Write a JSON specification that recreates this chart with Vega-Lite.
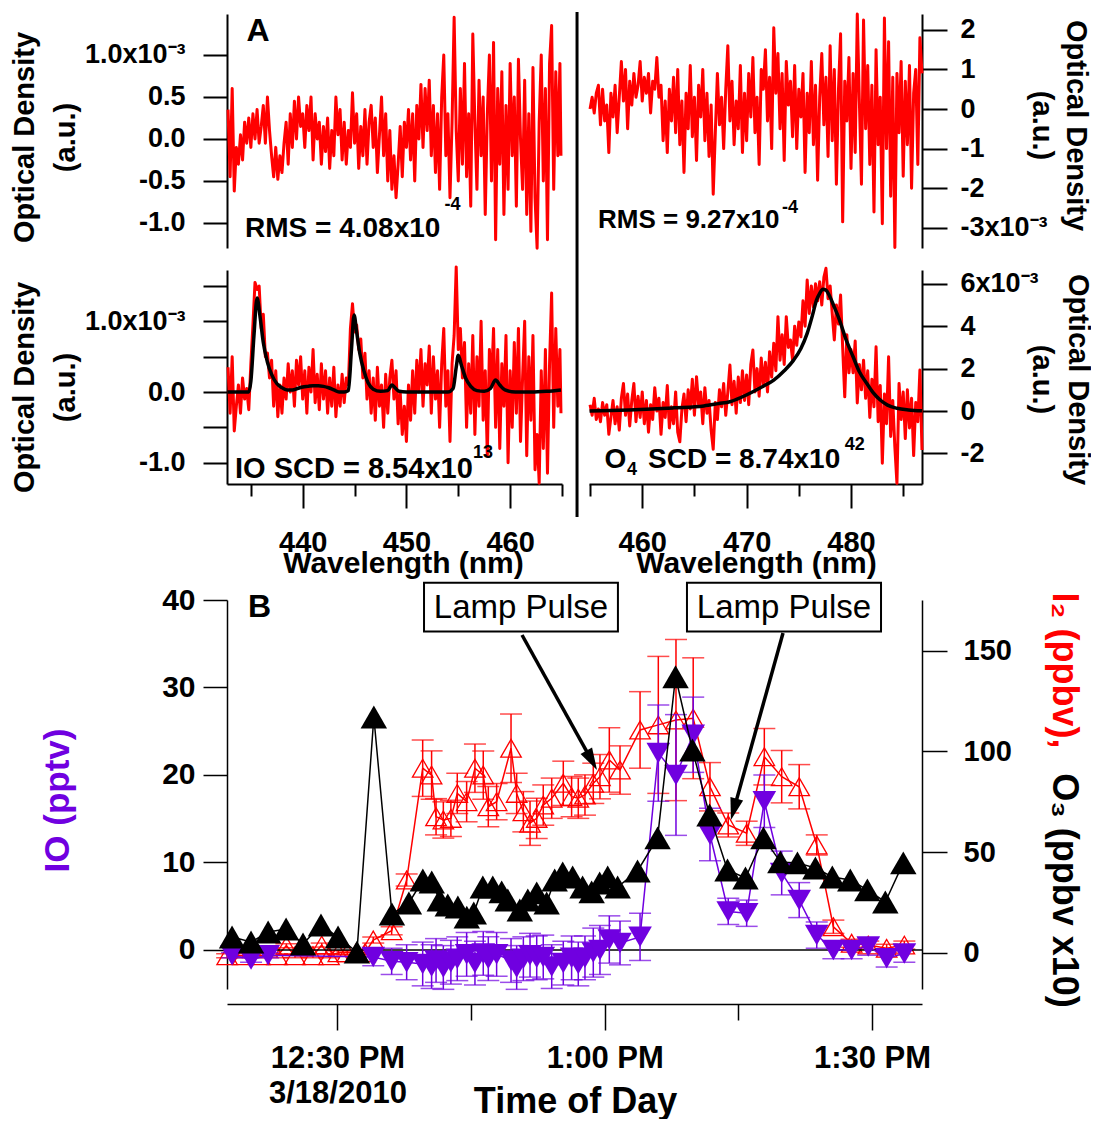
{
"$schema":"https://vega.github.io/schema/vega-lite/v6.json",
"background":"white",
"padding":{"left":10,"top":10,"right":0,"bottom":0},
"bounds":"flush",
"spacing":116,
"config":{
 "view":{"stroke":null},
 "font":"Liberation Sans",
 "axis":{"domainColor":"black","tickColor":"black","labelColor":"black","titleColor":"black","labelFont":"Liberation Sans","titleFont":"Liberation Sans","labelFontWeight":"bold","titleFontWeight":"bold","grid":false,"domainWidth":2,"tickWidth":2,"labelOverlap":false,"labelFlush":false,"labelBound":false},
 "text":{"font":"Liberation Sans"}
},
"datasets":{
"tl":[{"w":432.8,"od":0.35},{"w":433.0,"od":-0.45},{"w":433.2,"od":0.6},{"w":433.4,"od":-0.62},{"w":433.6,"od":-0.1},{"w":433.8,"od":-0.3},{"w":434.0,"od":0.05},{"w":434.2,"od":-0.25},{"w":434.4,"od":0.2},{"w":434.6,"od":-0.05},{"w":434.8,"od":0.25},{"w":435.0,"od":-0.1},{"w":435.2,"od":0.3},{"w":435.4,"od":0.0},{"w":435.6,"od":0.35},{"w":435.8,"od":-0.05},{"w":436.0,"od":0.15},{"w":436.2,"od":0.4},{"w":436.4,"od":-0.05},{"w":436.6,"od":0.5},{"w":436.8,"od":0.1},{"w":437.0,"od":-0.2},{"w":437.2,"od":-0.45},{"w":437.4,"od":-0.1},{"w":437.6,"od":-0.48},{"w":437.8,"od":-0.2},{"w":438.0,"od":-0.4},{"w":438.2,"od":-0.05},{"w":438.4,"od":0.2},{"w":438.6,"od":-0.3},{"w":438.8,"od":0.3},{"w":439.0,"od":-0.1},{"w":439.2,"od":0.45},{"w":439.4,"od":0.0},{"w":439.6,"od":0.5},{"w":439.8,"od":0.15},{"w":440.0,"od":0.3},{"w":440.2,"od":-0.1},{"w":440.4,"od":0.4},{"w":440.6,"od":0.1},{"w":440.8,"od":0.5},{"w":441.0,"od":-0.25},{"w":441.2,"od":0.3},{"w":441.4,"od":0.0},{"w":441.6,"od":0.2},{"w":441.8,"od":-0.3},{"w":442.0,"od":0.15},{"w":442.2,"od":-0.15},{"w":442.4,"od":0.25},{"w":442.6,"od":-0.35},{"w":442.8,"od":0.1},{"w":443.0,"od":-0.2},{"w":443.2,"od":0.5},{"w":443.4,"od":0.05},{"w":443.6,"od":0.35},{"w":443.8,"od":-0.25},{"w":444.0,"od":0.2},{"w":444.2,"od":-0.3},{"w":444.4,"od":0.1},{"w":444.6,"od":-0.1},{"w":444.8,"od":0.55},{"w":445.0,"od":-0.05},{"w":445.2,"od":0.3},{"w":445.4,"od":-0.35},{"w":445.6,"od":0.15},{"w":445.8,"od":-0.2},{"w":446.0,"od":0.35},{"w":446.2,"od":-0.3},{"w":446.4,"od":0.2},{"w":446.6,"od":0.4},{"w":446.8,"od":-0.1},{"w":447.0,"od":0.25},{"w":447.2,"od":-0.4},{"w":447.4,"od":0.05},{"w":447.6,"od":0.5},{"w":447.8,"od":-0.2},{"w":448.0,"od":0.3},{"w":448.2,"od":-0.5},{"w":448.4,"od":0.1},{"w":448.6,"od":-0.6},{"w":448.8,"od":-0.2},{"w":449.0,"od":-0.7},{"w":449.2,"od":-0.3},{"w":449.4,"od":0.15},{"w":449.6,"od":-0.45},{"w":449.8,"od":0.2},{"w":450.0,"od":-0.1},{"w":450.2,"od":0.35},{"w":450.4,"od":-0.25},{"w":450.6,"od":0.3},{"w":450.8,"od":-0.5},{"w":451.0,"od":0.4},{"w":451.2,"od":0.0},{"w":451.4,"od":0.65},{"w":451.6,"od":-0.1},{"w":451.8,"od":0.6},{"w":452.0,"od":0.1},{"w":452.2,"od":0.7},{"w":452.4,"od":-0.2},{"w":452.6,"od":0.4},{"w":452.8,"od":-0.4},{"w":453.0,"od":0.3},{"w":453.2,"od":-0.6},{"w":453.4,"od":0.5},{"w":453.6,"od":1.0},{"w":453.8,"od":-0.2},{"w":454.0,"od":0.3},{"w":454.2,"od":-0.7},{"w":454.4,"od":0.2},{"w":454.6,"od":1.45},{"w":454.8,"od":0.1},{"w":455.0,"od":-0.5},{"w":455.2,"od":0.6},{"w":455.4,"od":-0.3},{"w":455.6,"od":0.9},{"w":455.8,"od":-0.45},{"w":456.0,"od":0.3},{"w":456.2,"od":-0.8},{"w":456.4,"od":1.25},{"w":456.6,"od":0.2},{"w":456.8,"od":-0.6},{"w":457.0,"od":0.7},{"w":457.2,"od":-0.2},{"w":457.4,"od":0.5},{"w":457.6,"od":-0.9},{"w":457.8,"od":0.3},{"w":458.0,"od":1.0},{"w":458.2,"od":-0.5},{"w":458.4,"od":1.15},{"w":458.6,"od":-1.2},{"w":458.8,"od":0.6},{"w":459.0,"od":-0.3},{"w":459.2,"od":0.8},{"w":459.4,"od":-0.9},{"w":459.6,"od":0.4},{"w":459.8,"od":-0.6},{"w":460.0,"od":0.9},{"w":460.2,"od":-0.2},{"w":460.4,"od":0.5},{"w":460.6,"od":-0.8},{"w":460.8,"od":0.95},{"w":461.0,"od":0.0},{"w":461.2,"od":-0.6},{"w":461.4,"od":0.7},{"w":461.6,"od":-0.9},{"w":461.8,"od":0.3},{"w":462.0,"od":-1.1},{"w":462.2,"od":0.85},{"w":462.4,"od":-0.7},{"w":462.6,"od":-1.3},{"w":462.8,"od":0.2},{"w":463.0,"od":1.0},{"w":463.2,"od":-0.5},{"w":463.4,"od":0.6},{"w":463.6,"od":-1.2},{"w":463.8,"od":0.9},{"w":464.0,"od":1.35},{"w":464.2,"od":-0.6},{"w":464.4,"od":0.8},{"w":464.6,"od":-0.2},{"w":464.8,"od":0.9},{"w":464.9,"od":-0.2}],
"tr":[{"w":455.0,"od":0.0},{"w":455.2,"od":0.3},{"w":455.4,"od":-0.1},{"w":455.6,"od":0.4},{"w":455.8,"od":0.6},{"w":456.0,"od":-0.4},{"w":456.2,"od":0.5},{"w":456.4,"od":-0.3},{"w":456.6,"od":0.1},{"w":456.8,"od":-1.1},{"w":457.0,"od":0.4},{"w":457.2,"od":-0.2},{"w":457.4,"od":0.6},{"w":457.6,"od":-0.6},{"w":457.8,"od":0.3},{"w":458.0,"od":1.2},{"w":458.2,"od":0.2},{"w":458.4,"od":1.0},{"w":458.6,"od":-0.5},{"w":458.8,"od":0.7},{"w":459.0,"od":0.1},{"w":459.2,"od":0.9},{"w":459.4,"od":0.3},{"w":459.6,"od":0.6},{"w":459.8,"od":1.2},{"w":460.0,"od":0.2},{"w":460.2,"od":0.8},{"w":460.4,"od":0.4},{"w":460.6,"od":0.9},{"w":460.8,"od":-0.1},{"w":461.0,"od":0.7},{"w":461.2,"od":0.5},{"w":461.4,"od":1.3},{"w":461.6,"od":0.3},{"w":461.8,"od":0.6},{"w":462.0,"od":-0.8},{"w":462.2,"od":0.2},{"w":462.4,"od":-1.1},{"w":462.6,"od":0.5},{"w":462.8,"od":-0.3},{"w":463.0,"od":0.8},{"w":463.2,"od":-0.6},{"w":463.4,"od":1.0},{"w":463.6,"od":-0.9},{"w":463.8,"od":0.2},{"w":464.0,"od":-1.6},{"w":464.2,"od":0.4},{"w":464.4,"od":-0.5},{"w":464.6,"od":1.1},{"w":464.8,"od":-0.7},{"w":465.0,"od":0.3},{"w":465.2,"od":-1.3},{"w":465.4,"od":0.6},{"w":465.6,"od":-0.2},{"w":465.8,"od":1.0},{"w":466.0,"od":-0.8},{"w":466.2,"od":0.4},{"w":466.4,"od":-1.2},{"w":466.6,"od":0.1},{"w":466.8,"od":-2.15},{"w":467.0,"od":-0.6},{"w":467.2,"od":0.9},{"w":467.4,"od":-0.4},{"w":467.6,"od":0.3},{"w":467.8,"od":-1.0},{"w":468.0,"od":0.5},{"w":468.2,"od":1.6},{"w":468.4,"od":-0.3},{"w":468.6,"od":0.7},{"w":468.8,"od":-0.9},{"w":469.0,"od":0.2},{"w":469.2,"od":-0.5},{"w":469.4,"od":1.1},{"w":469.6,"od":-1.1},{"w":469.8,"od":0.4},{"w":470.0,"od":-0.8},{"w":470.2,"od":0.9},{"w":470.4,"od":-0.2},{"w":470.6,"od":1.3},{"w":470.8,"od":-0.6},{"w":471.0,"od":0.3},{"w":471.2,"od":-1.4},{"w":471.4,"od":1.0},{"w":471.6,"od":0.5},{"w":471.8,"od":1.5},{"w":472.0,"od":-0.3},{"w":472.2,"od":0.8},{"w":472.4,"od":-1.0},{"w":472.6,"od":2.05},{"w":472.8,"od":0.4},{"w":473.0,"od":1.4},{"w":473.2,"od":-0.5},{"w":473.4,"od":0.9},{"w":473.6,"od":-1.3},{"w":473.8,"od":1.2},{"w":474.0,"od":0.1},{"w":474.2,"od":0.7},{"w":474.4,"od":-0.7},{"w":474.6,"od":1.1},{"w":474.8,"od":-1.0},{"w":475.0,"od":0.5},{"w":475.2,"od":-0.2},{"w":475.4,"od":0.9},{"w":475.6,"od":-1.6},{"w":475.8,"od":0.4},{"w":476.0,"od":-0.6},{"w":476.2,"od":1.2},{"w":476.4,"od":-0.9},{"w":476.6,"od":0.6},{"w":476.8,"od":-1.8},{"w":477.0,"od":0.3},{"w":477.2,"od":1.4},{"w":477.4,"od":-0.4},{"w":477.6,"od":0.8},{"w":477.8,"od":-1.2},{"w":478.0,"od":1.6},{"w":478.2,"od":-0.8},{"w":478.4,"od":1.0},{"w":478.6,"od":-1.9},{"w":478.8,"od":0.5},{"w":479.0,"od":1.9},{"w":479.2,"od":-2.85},{"w":479.4,"od":0.7},{"w":479.6,"od":-0.3},{"w":479.8,"od":1.3},{"w":480.0,"od":-1.5},{"w":480.2,"od":0.9},{"w":480.4,"od":-1.1},{"w":480.6,"od":2.4},{"w":480.8,"od":0.2},{"w":481.0,"od":-1.9},{"w":481.2,"od":2.25},{"w":481.4,"od":-0.5},{"w":481.6,"od":1.1},{"w":481.8,"od":-1.4},{"w":482.0,"od":0.6},{"w":482.2,"od":-2.6},{"w":482.4,"od":1.5},{"w":482.6,"od":-0.9},{"w":482.8,"od":0.3},{"w":483.0,"od":-2.9},{"w":483.2,"od":2.3},{"w":483.4,"od":-1.0},{"w":483.6,"od":1.7},{"w":483.8,"od":-2.2},{"w":484.0,"od":0.8},{"w":484.2,"od":-3.5},{"w":484.4,"od":0.9},{"w":484.6,"od":-0.6},{"w":484.8,"od":1.2},{"w":485.0,"od":-1.7},{"w":485.2,"od":0.7},{"w":485.4,"od":-0.9},{"w":485.6,"od":1.1},{"w":485.8,"od":-2.0},{"w":486.0,"od":0.4},{"w":486.2,"od":1.0},{"w":486.4,"od":-1.4},{"w":486.6,"od":1.8},{"w":486.8,"od":0.9}],
"bl":[{"w":432.8,"od":0.35},{"w":433.0,"od":-0.3},{"w":433.2,"od":0.5},{"w":433.4,"od":-0.55},{"w":433.6,"od":-0.2},{"w":433.8,"od":0.1},{"w":434.0,"od":-0.3},{"w":434.2,"od":0.2},{"w":434.4,"od":-0.1},{"w":434.6,"od":0.05},{"w":434.8,"od":-0.25},{"w":435.0,"od":0.4},{"w":435.2,"od":0.95},{"w":435.4,"od":1.55},{"w":435.6,"od":1.45},{"w":435.8,"od":1.5},{"w":436.0,"od":0.9},{"w":436.2,"od":1.1},{"w":436.4,"od":0.5},{"w":436.6,"od":0.55},{"w":436.8,"od":0.2},{"w":437.0,"od":0.45},{"w":437.2,"od":-0.2},{"w":437.4,"od":0.3},{"w":437.6,"od":-0.35},{"w":437.8,"od":0.1},{"w":438.0,"od":-0.3},{"w":438.2,"od":0.2},{"w":438.4,"od":-0.1},{"w":438.6,"od":0.4},{"w":438.8,"od":0.0},{"w":439.0,"od":0.3},{"w":439.2,"od":-0.2},{"w":439.4,"od":0.45},{"w":439.6,"od":0.1},{"w":439.8,"od":0.5},{"w":440.0,"od":-0.1},{"w":440.2,"od":0.3},{"w":440.4,"od":-0.3},{"w":440.6,"od":0.35},{"w":440.8,"od":0.0},{"w":441.0,"od":0.6},{"w":441.2,"od":-0.15},{"w":441.4,"od":0.25},{"w":441.6,"od":-0.25},{"w":441.8,"od":0.4},{"w":442.0,"od":-0.1},{"w":442.2,"od":0.3},{"w":442.4,"od":-0.3},{"w":442.6,"od":0.2},{"w":442.8,"od":-0.2},{"w":443.0,"od":0.35},{"w":443.2,"od":-0.35},{"w":443.4,"od":0.1},{"w":443.6,"od":-0.2},{"w":443.8,"od":0.25},{"w":444.0,"od":-0.15},{"w":444.2,"od":0.2},{"w":444.4,"od":0.1},{"w":444.6,"od":0.9},{"w":444.8,"od":1.25},{"w":445.0,"od":0.85},{"w":445.2,"od":0.95},{"w":445.4,"od":0.6},{"w":445.6,"od":0.75},{"w":445.8,"od":0.2},{"w":446.0,"od":0.55},{"w":446.2,"od":-0.1},{"w":446.4,"od":0.3},{"w":446.6,"od":-0.3},{"w":446.8,"od":0.2},{"w":447.0,"od":-0.4},{"w":447.2,"od":0.35},{"w":447.4,"od":-0.2},{"w":447.6,"od":0.1},{"w":447.8,"od":-0.5},{"w":448.0,"od":0.25},{"w":448.2,"od":-0.3},{"w":448.4,"od":0.2},{"w":448.6,"od":0.45},{"w":448.8,"od":-0.1},{"w":449.0,"od":0.3},{"w":449.2,"od":-0.45},{"w":449.4,"od":0.0},{"w":449.6,"od":-0.6},{"w":449.8,"od":-0.2},{"w":450.0,"od":-0.7},{"w":450.2,"od":0.1},{"w":450.4,"od":-0.4},{"w":450.6,"od":0.3},{"w":450.8,"od":-0.3},{"w":451.0,"od":0.45},{"w":451.2,"od":0.0},{"w":451.4,"od":0.6},{"w":451.6,"od":-0.2},{"w":451.8,"od":0.4},{"w":452.0,"od":0.1},{"w":452.2,"od":0.65},{"w":452.4,"od":-0.3},{"w":452.6,"od":0.5},{"w":452.8,"od":-0.1},{"w":453.0,"od":0.3},{"w":453.2,"od":-0.5},{"w":453.4,"od":0.4},{"w":453.6,"od":0.9},{"w":453.8,"od":-0.2},{"w":454.0,"od":0.3},{"w":454.2,"od":-0.7},{"w":454.4,"od":0.4},{"w":454.6,"od":0.8},{"w":454.8,"od":1.77},{"w":455.0,"od":0.6},{"w":455.2,"od":0.9},{"w":455.4,"od":0.2},{"w":455.6,"od":0.7},{"w":455.8,"od":-0.5},{"w":456.0,"od":0.4},{"w":456.2,"od":-0.3},{"w":456.4,"od":0.8},{"w":456.6,"od":-0.6},{"w":456.8,"od":0.5},{"w":457.0,"od":-0.2},{"w":457.2,"od":1.0},{"w":457.4,"od":-0.4},{"w":457.6,"od":0.3},{"w":457.8,"od":-0.9},{"w":458.0,"od":0.6},{"w":458.2,"od":0.1},{"w":458.4,"od":0.9},{"w":458.6,"od":-0.5},{"w":458.8,"od":0.6},{"w":459.0,"od":-0.8},{"w":459.2,"od":0.4},{"w":459.4,"od":-0.2},{"w":459.6,"od":0.8},{"w":459.8,"od":-1.0},{"w":460.0,"od":0.3},{"w":460.2,"od":-0.5},{"w":460.4,"od":0.7},{"w":460.6,"od":-0.3},{"w":460.8,"od":0.9},{"w":461.0,"od":-0.7},{"w":461.2,"od":0.2},{"w":461.4,"od":1.0},{"w":461.6,"od":-0.9},{"w":461.8,"od":0.5},{"w":462.0,"od":-0.4},{"w":462.2,"od":0.8},{"w":462.4,"od":-1.1},{"w":462.6,"od":-0.6},{"w":462.8,"od":-1.29},{"w":463.0,"od":0.3},{"w":463.2,"od":-0.8},{"w":463.4,"od":0.6},{"w":463.6,"od":-1.15},{"w":463.8,"od":0.4},{"w":464.0,"od":1.4},{"w":464.2,"od":-0.5},{"w":464.4,"od":0.9},{"w":464.6,"od":-0.2},{"w":464.8,"od":0.6},{"w":464.9,"od":-0.3}],
"blfit":[{"w":432.75,"od":0.0},{"w":434.8,"od":0.0},{"w":435.0,"od":0.15},{"w":435.3,"od":0.8},{"w":435.6,"od":1.33},{"w":435.9,"od":1.05},{"w":436.2,"od":0.7},{"w":436.6,"od":0.42},{"w":437.0,"od":0.25},{"w":437.5,"od":0.12},{"w":438.0,"od":0.06},{"w":438.5,"od":0.03},{"w":439.0,"od":0.03},{"w":439.5,"od":0.05},{"w":440.0,"od":0.07},{"w":440.5,"od":0.08},{"w":441.0,"od":0.09},{"w":441.5,"od":0.09},{"w":442.0,"od":0.08},{"w":442.5,"od":0.06},{"w":443.0,"od":0.03},{"w":443.5,"od":0.0},{"w":444.0,"od":0.0},{"w":444.4,"od":0.02},{"w":444.7,"od":0.6},{"w":444.95,"od":1.09},{"w":445.2,"od":0.85},{"w":445.5,"od":0.55},{"w":445.9,"od":0.3},{"w":446.3,"od":0.13},{"w":446.8,"od":0.04},{"w":447.5,"od":0.01},{"w":448.2,"od":0.02},{"w":448.6,"od":0.1},{"w":448.9,"od":0.06},{"w":449.3,"od":0.01},{"w":450.0,"od":0.0},{"w":451.0,"od":0.0},{"w":452.0,"od":0.0},{"w":453.0,"od":0.0},{"w":454.0,"od":0.0},{"w":454.5,"od":0.05},{"w":454.8,"od":0.35},{"w":455.0,"od":0.52},{"w":455.3,"od":0.38},{"w":455.7,"od":0.2},{"w":456.2,"od":0.08},{"w":456.8,"od":0.02},{"w":457.5,"od":0.01},{"w":458.1,"od":0.05},{"w":458.6,"od":0.17},{"w":459.0,"od":0.1},{"w":459.5,"od":0.03},{"w":460.5,"od":0.0},{"w":462.0,"od":0.0},{"w":463.5,"od":0.01},{"w":464.9,"od":0.03}],
"br":[{"w":455.0,"od":0.3},{"w":455.2,"od":-0.2},{"w":455.4,"od":0.6},{"w":455.6,"od":-0.4},{"w":455.8,"od":0.1},{"w":456.0,"od":-0.5},{"w":456.2,"od":0.4},{"w":456.4,"od":-0.2},{"w":456.6,"od":0.3},{"w":456.8,"od":-1.1},{"w":457.0,"od":-0.3},{"w":457.2,"od":0.5},{"w":457.4,"od":-0.6},{"w":457.6,"od":0.2},{"w":457.8,"od":-0.9},{"w":458.0,"od":0.6},{"w":458.2,"od":1.3},{"w":458.4,"od":-0.2},{"w":458.6,"od":0.8},{"w":458.8,"od":-0.7},{"w":459.0,"od":0.5},{"w":459.2,"od":1.3},{"w":459.4,"od":-0.5},{"w":459.6,"od":0.7},{"w":459.8,"od":-0.3},{"w":460.0,"od":0.9},{"w":460.2,"od":-0.6},{"w":460.4,"od":0.5},{"w":460.6,"od":-1.0},{"w":460.8,"od":0.3},{"w":461.0,"od":-0.4},{"w":461.2,"od":1.1},{"w":461.4,"od":0.0},{"w":461.6,"od":0.6},{"w":461.8,"od":-1.1},{"w":462.0,"od":0.4},{"w":462.2,"od":-0.3},{"w":462.4,"od":1.2},{"w":462.6,"od":-0.8},{"w":462.8,"od":0.2},{"w":463.0,"od":-0.6},{"w":463.2,"od":0.9},{"w":463.4,"od":-1.0},{"w":463.6,"od":-1.45},{"w":463.8,"od":0.1},{"w":464.0,"od":0.8},{"w":464.2,"od":-0.5},{"w":464.4,"od":1.0},{"w":464.6,"od":0.1},{"w":464.8,"od":1.5},{"w":465.0,"od":-0.2},{"w":465.2,"od":1.62},{"w":465.4,"od":0.3},{"w":465.6,"od":0.9},{"w":465.8,"od":-0.6},{"w":466.0,"od":1.1},{"w":466.2,"od":-0.1},{"w":466.4,"od":0.5},{"w":466.6,"od":-0.9},{"w":466.8,"od":-1.8},{"w":467.0,"od":0.4},{"w":467.2,"od":-0.4},{"w":467.4,"od":1.0},{"w":467.6,"od":0.2},{"w":467.8,"od":1.3},{"w":468.0,"od":-0.2},{"w":468.2,"od":0.9},{"w":468.4,"od":2.17},{"w":468.6,"od":0.3},{"w":468.8,"od":1.4},{"w":469.0,"od":-0.1},{"w":469.2,"od":1.6},{"w":469.4,"od":0.4},{"w":469.6,"od":1.9},{"w":469.8,"od":0.5},{"w":470.0,"od":1.7},{"w":470.2,"od":0.3},{"w":470.4,"od":2.2},{"w":470.6,"od":2.88},{"w":470.8,"od":0.9},{"w":471.0,"od":2.0},{"w":471.2,"od":0.7},{"w":471.4,"od":2.5},{"w":471.6,"od":1.2},{"w":471.8,"od":2.3},{"w":472.0,"od":0.9},{"w":472.2,"od":2.8},{"w":472.4,"od":1.6},{"w":472.6,"od":3.2},{"w":472.8,"od":1.9},{"w":473.0,"od":4.45},{"w":473.2,"od":2.4},{"w":473.4,"od":3.6},{"w":473.6,"od":2.2},{"w":473.8,"od":4.45},{"w":474.0,"od":3.0},{"w":474.2,"od":3.35},{"w":474.4,"od":2.4},{"w":474.6,"od":4.0},{"w":474.8,"od":3.1},{"w":475.0,"od":4.2},{"w":475.2,"od":3.5},{"w":475.4,"od":5.2},{"w":475.6,"od":4.0},{"w":475.8,"od":6.18},{"w":476.0,"od":4.6},{"w":476.2,"od":5.9},{"w":476.4,"od":4.9},{"w":476.6,"od":6.0},{"w":476.8,"od":5.2},{"w":477.0,"od":6.1},{"w":477.2,"od":5.0},{"w":477.4,"od":6.3},{"w":477.6,"od":6.73},{"w":477.8,"od":5.3},{"w":478.0,"od":5.9},{"w":478.2,"od":4.6},{"w":478.4,"od":3.35},{"w":478.6,"od":5.0},{"w":478.8,"od":4.1},{"w":479.0,"od":5.47},{"w":479.2,"od":3.0},{"w":479.4,"od":0.67},{"w":479.6,"od":3.6},{"w":479.8,"od":1.8},{"w":480.0,"od":2.9},{"w":480.2,"od":1.8},{"w":480.4,"od":3.3},{"w":480.6,"od":0.38},{"w":480.8,"od":2.2},{"w":481.0,"od":1.0},{"w":481.2,"od":2.4},{"w":481.4,"od":0.6},{"w":481.6,"od":1.9},{"w":481.8,"od":-0.3},{"w":482.0,"od":1.5},{"w":482.2,"od":0.2},{"w":482.4,"od":3.03},{"w":482.6,"od":-0.5},{"w":482.8,"od":1.2},{"w":483.0,"od":-2.46},{"w":483.2,"od":0.8},{"w":483.4,"od":-0.6},{"w":483.6,"od":2.56},{"w":483.8,"od":-1.2},{"w":484.0,"od":0.5},{"w":484.2,"od":-1.7},{"w":484.4,"od":-3.41},{"w":484.6,"od":1.3},{"w":484.8,"od":-0.4},{"w":485.0,"od":0.9},{"w":485.2,"od":-1.3},{"w":485.4,"od":1.0},{"w":485.6,"od":-0.8},{"w":485.8,"od":0.6},{"w":486.0,"od":-2.1},{"w":486.2,"od":0.4},{"w":486.4,"od":-0.5},{"w":486.6,"od":1.93},{"w":486.8,"od":-1.84}],
"brfit":[{"w":454.95,"od":0.0},{"w":457.0,"od":0.02},{"w":460.4,"od":0.08},{"w":463.0,"od":0.15},{"w":465.9,"od":0.24},{"w":467.3,"od":0.35},{"w":468.4,"od":0.44},{"w":469.5,"od":0.65},{"w":470.6,"od":0.91},{"w":471.6,"od":1.17},{"w":472.6,"od":1.46},{"w":473.6,"od":1.9},{"w":474.5,"od":2.4},{"w":475.2,"od":2.95},{"w":475.8,"od":3.66},{"w":476.3,"od":4.5},{"w":476.7,"od":5.24},{"w":477.0,"od":5.55},{"w":477.3,"od":5.74},{"w":477.6,"od":5.7},{"w":477.9,"od":5.47},{"w":478.4,"od":4.9},{"w":478.9,"od":4.29},{"w":479.5,"od":3.4},{"w":480.2,"od":2.56},{"w":480.8,"od":1.85},{"w":481.5,"od":1.31},{"w":482.1,"od":0.88},{"w":482.8,"od":0.52},{"w":483.5,"od":0.28},{"w":484.4,"od":0.13},{"w":485.5,"od":0.05},{"w":486.8,"od":0.01}],
"i2":[{"time":"2010-03-18T12:17:37","i2":-1.5,"e":1},{"time":"2010-03-18T12:19:23","i2":-1.5,"e":1},{"time":"2010-03-18T12:21:18","i2":-1.5,"e":1},{"time":"2010-03-18T12:23:13","i2":-1.5,"e":1},{"time":"2010-03-18T12:24:16","i2":3.5,"e":1},{"time":"2010-03-18T12:25:14","i2":-1.5,"e":1},{"time":"2010-03-18T12:27:15","i2":-1.5,"e":1},{"time":"2010-03-18T12:28:14","i2":3.8,"e":1},{"time":"2010-03-18T12:29:03","i2":-1.5,"e":1},{"time":"2010-03-18T12:30:06","i2":0.0,"e":1},{"time":"2010-03-18T12:31:06","i2":0.0,"e":1},{"time":"2010-03-18T12:32:06","i2":0.0,"e":1},{"time":"2010-03-18T12:33:06","i2":0.0,"e":1},{"time":"2010-03-18T12:34:01","i2":6.3,"e":1.5},{"time":"2010-03-18T12:36:05","i2":10.9,"e":2},{"time":"2010-03-18T12:37:46","i2":36.1,"e":3},{"time":"2010-03-18T12:39:34","i2":91.6,"e":14},{"time":"2010-03-18T12:40:34","i2":88.2,"e":12},{"time":"2010-03-18T12:41:04","i2":67.5,"e":9},{"time":"2010-03-18T12:41:53","i2":65.9,"e":9},{"time":"2010-03-18T12:42:44","i2":66.7,"e":9},{"time":"2010-03-18T12:43:27","i2":79.1,"e":10},{"time":"2010-03-18T12:44:30","i2":75.0,"e":10},{"time":"2010-03-18T12:45:26","i2":91.6,"e":12},{"time":"2010-03-18T12:46:22","i2":88.2,"e":12},{"time":"2010-03-18T12:46:56","i2":72.5,"e":10},{"time":"2010-03-18T12:47:52","i2":75.0,"e":9},{"time":"2010-03-18T12:49:29","i2":101.5,"e":17},{"time":"2010-03-18T12:50:07","i2":79.1,"e":10},{"time":"2010-03-18T12:50:52","i2":70.0,"e":10},{"time":"2010-03-18T12:51:37","i2":64.3,"e":11},{"time":"2010-03-18T12:52:22","i2":66.7,"e":10},{"time":"2010-03-18T12:53:06","i2":73.3,"e":10},{"time":"2010-03-18T12:54:03","i2":76.7,"e":10},{"time":"2010-03-18T12:55:21","i2":84.1,"e":11},{"time":"2010-03-18T12:56:17","i2":77.5,"e":10},{"time":"2010-03-18T12:57:02","i2":76.7,"e":10},{"time":"2010-03-18T12:57:47","i2":78.3,"e":10},{"time":"2010-03-18T12:58:43","i2":84.1,"e":10},{"time":"2010-03-18T12:59:28","i2":87.4,"e":11},{"time":"2010-03-18T13:00:31","i2":95.7,"e":16},{"time":"2010-03-18T13:01:43","i2":90.7,"e":12},{"time":"2010-03-18T13:03:58","i2":110.6,"e":19},{"time":"2010-03-18T13:06:01","i2":113.1,"e":34},{"time":"2010-03-18T13:08:00","i2":115.5,"e":40},{"time":"2010-03-18T13:09:56","i2":116.4,"e":30},{"time":"2010-03-18T13:11:49","i2":82.4,"e":12},{"time":"2010-03-18T13:13:52","i2":63.4,"e":6},{"time":"2010-03-18T13:15:56","i2":59.3,"e":6},{"time":"2010-03-18T13:17:55","i2":97.3,"e":14},{"time":"2010-03-18T13:19:52","i2":87.4,"e":13},{"time":"2010-03-18T13:21:50","i2":82.4,"e":11},{"time":"2010-03-18T13:23:48","i2":53.5,"e":5},{"time":"2010-03-18T13:25:40","i2":12.9,"e":3.3},{"time":"2010-03-18T13:27:43","i2":4.7,"e":2},{"time":"2010-03-18T13:29:35","i2":3.8,"e":2},{"time":"2010-03-18T13:31:39","i2":2.2,"e":2},{"time":"2010-03-18T13:33:38","i2":3.8,"e":2}],
"io":[{"time":"2010-03-18T12:18:10","io":-0.6,"e":0.3},{"time":"2010-03-18T12:20:18","io":-1.1,"e":0.3},{"time":"2010-03-18T12:22:13","io":-0.6,"e":0.3},{"time":"2010-03-18T12:34:01","io":-0.8,"e":1.0},{"time":"2010-03-18T12:36:05","io":-1.3,"e":1.5},{"time":"2010-03-18T12:37:46","io":-1.4,"e":2},{"time":"2010-03-18T12:39:34","io":-1.6,"e":2.5},{"time":"2010-03-18T12:40:34","io":-1.9,"e":2.5},{"time":"2010-03-18T12:41:04","io":-1.2,"e":2.5},{"time":"2010-03-18T12:41:53","io":-2.0,"e":2.5},{"time":"2010-03-18T12:42:44","io":-1.4,"e":2.5},{"time":"2010-03-18T12:43:27","io":-1.0,"e":2.5},{"time":"2010-03-18T12:44:30","io":-0.5,"e":2.5},{"time":"2010-03-18T12:45:26","io":-1.5,"e":2.5},{"time":"2010-03-18T12:46:22","io":-0.4,"e":2.5},{"time":"2010-03-18T12:46:56","io":-1.0,"e":2.5},{"time":"2010-03-18T12:47:52","io":-0.5,"e":2.5},{"time":"2010-03-18T12:49:29","io":-1.2,"e":2.5},{"time":"2010-03-18T12:50:07","io":-2.0,"e":2.5},{"time":"2010-03-18T12:50:52","io":-1.0,"e":2.5},{"time":"2010-03-18T12:51:37","io":-0.6,"e":2.5},{"time":"2010-03-18T12:52:22","io":-0.9,"e":2.5},{"time":"2010-03-18T12:53:06","io":-0.8,"e":2.5},{"time":"2010-03-18T12:54:03","io":-1.9,"e":2.5},{"time":"2010-03-18T12:55:21","io":-1.5,"e":2.5},{"time":"2010-03-18T12:56:17","io":-0.9,"e":2.5},{"time":"2010-03-18T12:57:02","io":-1.6,"e":2.5},{"time":"2010-03-18T12:57:47","io":-0.9,"e":2.5},{"time":"2010-03-18T12:58:43","io":-0.3,"e":2.8},{"time":"2010-03-18T12:59:28","io":0.0,"e":2.8},{"time":"2010-03-18T13:00:31","io":1.2,"e":2.7},{"time":"2010-03-18T13:01:43","io":0.8,"e":2.5},{"time":"2010-03-18T13:03:58","io":1.5,"e":2.7},{"time":"2010-03-18T13:06:01","io":22.5,"e":5.5},{"time":"2010-03-18T13:08:00","io":20.0,"e":6.9},{"time":"2010-03-18T13:09:56","io":24.6,"e":4.3},{"time":"2010-03-18T13:11:49","io":13.2,"e":3},{"time":"2010-03-18T13:13:52","io":4.4,"e":1.5},{"time":"2010-03-18T13:15:56","io":4.2,"e":1.5},{"time":"2010-03-18T13:17:55","io":17.0,"e":3},{"time":"2010-03-18T13:19:52","io":8.8,"e":2.5},{"time":"2010-03-18T13:21:50","io":5.7,"e":2},{"time":"2010-03-18T13:23:48","io":1.7,"e":1.5},{"time":"2010-03-18T13:25:40","io":0.0,"e":1},{"time":"2010-03-18T13:27:43","io":0.0,"e":1},{"time":"2010-03-18T13:29:35","io":0.4,"e":1},{"time":"2010-03-18T13:31:39","io":-0.95,"e":1},{"time":"2010-03-18T13:33:38","io":-0.4,"e":1}],
"o3":[{"time":"2010-03-18T12:18:10","o3":7.8},{"time":"2010-03-18T12:20:18","o3":5.3},{"time":"2010-03-18T12:22:13","o3":10.3},{"time":"2010-03-18T12:24:14","o3":11.8},{"time":"2010-03-18T12:26:08","o3":4.3},{"time":"2010-03-18T12:28:09","o3":13.8},{"time":"2010-03-18T12:30:04","o3":7.8},{"time":"2010-03-18T12:32:11","o3":0.3},{"time":"2010-03-18T12:34:05","o3":117.0},{"time":"2010-03-18T12:36:07","o3":19.2},{"time":"2010-03-18T12:38:01","o3":24.7},{"time":"2010-03-18T12:39:35","o3":36.1},{"time":"2010-03-18T12:40:35","o3":35.1},{"time":"2010-03-18T12:41:29","o3":26.2},{"time":"2010-03-18T12:42:23","o3":23.7},{"time":"2010-03-18T12:43:31","o3":22.7},{"time":"2010-03-18T12:44:31","o3":17.7},{"time":"2010-03-18T12:45:18","o3":19.7},{"time":"2010-03-18T12:46:19","o3":32.6},{"time":"2010-03-18T12:47:26","o3":32.6},{"time":"2010-03-18T12:48:26","o3":30.2},{"time":"2010-03-18T12:49:07","o3":26.2},{"time":"2010-03-18T12:50:28","o3":21.2},{"time":"2010-03-18T12:51:22","o3":26.2},{"time":"2010-03-18T12:52:22","o3":29.7},{"time":"2010-03-18T12:53:29","o3":24.7},{"time":"2010-03-18T12:54:23","o3":36.1},{"time":"2010-03-18T12:55:17","o3":39.6},{"time":"2010-03-18T12:56:24","o3":37.6},{"time":"2010-03-18T12:57:31","o3":32.6},{"time":"2010-03-18T12:58:32","o3":30.2},{"time":"2010-03-18T12:59:26","o3":34.6},{"time":"2010-03-18T13:00:20","o3":37.6},{"time":"2010-03-18T13:01:27","o3":32.6},{"time":"2010-03-18T13:03:41","o3":40.6},{"time":"2010-03-18T13:05:56","o3":57.0},{"time":"2010-03-18T13:07:57","o3":137.0},{"time":"2010-03-18T13:09:51","o3":100.6},{"time":"2010-03-18T13:11:46","o3":68.4},{"time":"2010-03-18T13:13:47","o3":41.1},{"time":"2010-03-18T13:15:48","o3":37.1},{"time":"2010-03-18T13:17:49","o3":57.0},{"time":"2010-03-18T13:19:43","o3":45.1},{"time":"2010-03-18T13:21:38","o3":44.6},{"time":"2010-03-18T13:23:39","o3":42.1},{"time":"2010-03-18T13:25:33","o3":37.6},{"time":"2010-03-18T13:27:34","o3":36.1},{"time":"2010-03-18T13:29:29","o3":31.2},{"time":"2010-03-18T13:31:30","o3":25.2},{"time":"2010-03-18T13:33:31","o3":44.6}]
},
"vconcat":[
{"width":695,"height":470,
 "resolve":{"scale":{"x":"independent","y":"independent"}},
 "layer":[
  {"layer":[
    {"data":{"name":"tl"},"mark":{"type":"line","color":"#ff0000","strokeWidth":3,"strokeJoin":"round"},
     "encoding":{
      "x":{"field":"w","type":"quantitative","scale":{"domain":[432.7,465],"range":[0,335],"nice":false,"zero":false},"axis":null},
      "y":{"field":"od","type":"quantitative","scale":{"domain":[-1.298,1.488],"range":[234,0],"nice":false,"zero":false},
       "axis":{"orient":"left","values":[-1,-0.5,0,0.5,1],"tickSize":24,"labelPadding":18,"labelFontSize":27,
        "labelExpr":"datum.value == 1 ? '1.0x10⁻³' : datum.value == 0.5 ? '0.5' : datum.value == 0 ? '0.0' : datum.value == -0.5 ? '-0.5' : '-1.0'",
        "title":["Optical Density","(a.u.)"],"titleFontSize":29,"titleLineHeight":41,"titleAngle":-90,"titleAlign":"center","titleBaseline":"middle","titleX":-203,"titleY":123}}}},
    {"data":{"values":[{}]},"mark":{"type":"rule","color":"black","strokeWidth":3},"encoding":{"x":{"datum":466.45},"y":{"datum":1.512},"y2":{"datum":-4.5}}},
    {"data":{"values":[{}]},"mark":{"type":"text","text":"A","fontSize":32,"fontWeight":"bold","align":"center","baseline":"alphabetic"},"encoding":{"x":{"datum":435.69},"y":{"datum":1.167}}},
    {"data":{"values":[{}]},"mark":{"type":"text","text":"RMS = 4.08x10","fontSize":28,"fontWeight":"bold","align":"left","baseline":"alphabetic"},"encoding":{"x":{"datum":434.44},"y":{"datum":-1.167}}},
    {"data":{"values":[{}]},"mark":{"type":"text","text":"-4","fontSize":18,"fontWeight":"bold","align":"left","baseline":"alphabetic"},"encoding":{"x":{"datum":453.67},"y":{"datum":-0.845}}}
   ]},
  {"layer":[
    {"encoding":{
      "x":{"field":"w","type":"quantitative","scale":{"domain":[432.7,465],"range":[0,335],"nice":false,"zero":false},
       "axis":{"orient":"bottom","values":[435,440,445,450,455,460,465],"tickSize":{"condition":{"test":"datum.value % 10 == 0","value":24},"value":12},"labelPadding":20,"labelFontSize":29,"labelExpr":"datum.value % 10 == 0 ? '' + datum.value : ''","title":"Wavelength (nm)","titleFontSize":30,"titleX":176,"titleY":88,"titleAlign":"center","titleBaseline":"alphabetic"}},
      "y":{"field":"od","type":"quantitative","scale":{"domain":[-1.301,1.726],"range":[470,256],"nice":false,"zero":false},
       "axis":{"orient":"left","values":[-1,-0.5,0,0.5,1,1.5],"tickSize":24,"labelPadding":18,"labelFontSize":27,
        "labelExpr":"datum.value == 1 ? '1.0x10⁻³' : datum.value == 0 ? '0.0' : datum.value == -1 ? '-1.0' : ''",
        "title":["Optical Density","(a.u.)"],"titleFontSize":29,"titleLineHeight":41,"titleAngle":-90,"titleAlign":"center","titleBaseline":"middle","titleX":-203,"titleY":373}}},
     "layer":[
      {"data":{"name":"bl"},"mark":{"type":"line","color":"#ff0000","strokeWidth":3,"strokeJoin":"round"}},
      {"data":{"name":"blfit"},"mark":{"type":"line","color":"black","strokeWidth":3.5,"interpolate":"monotone"}}
     ]},
    {"data":{"values":[{}]},"mark":{"type":"text","text":"IO SCD = 8.54x10","fontSize":29,"fontWeight":"bold","align":"left","baseline":"alphabetic"},"encoding":{"x":{"datum":433.47},"y":{"datum":-1.216}}},
    {"data":{"values":[{}]},"mark":{"type":"text","text":"13","fontSize":18,"fontWeight":"bold","align":"left","baseline":"alphabetic"},"encoding":{"x":{"datum":456.42},"y":{"datum":-0.934}}}
   ]},
  {"layer":[
    {"data":{"name":"tr"},"mark":{"type":"line","color":"#ff0000","strokeWidth":3,"strokeJoin":"round"},
     "encoding":{
      "x":{"field":"w","type":"quantitative","scale":{"domain":[454.9,486.8],"range":[362,695],"nice":false,"zero":false},"axis":null},
      "y":{"field":"od","type":"quantitative","scale":{"domain":[-3.51,2.4],"range":[234,0],"nice":false,"zero":false},
       "axis":{"orient":"right","values":[-3,-2,-1,0,1,2],"tickSize":25,"labelPadding":13,"labelFontSize":27,
        "labelExpr":"datum.value == -3 ? '-3x10⁻³' : datum.value < 0 ? '-' + abs(datum.value) : '' + datum.value",
        "title":["Optical Density","(a.u.)"],"titleFontSize":29,"titleLineHeight":34,"titleAngle":90,"titleAlign":"center","titleBaseline":"middle","titleX":153,"titleY":111}}}},
    {"data":{"values":[{}]},"mark":{"type":"text","text":"RMS = 9.27x10","fontSize":26,"fontWeight":"bold","align":"left","baseline":"alphabetic"},"encoding":{"x":{"datum":455.76},"y":{"datum":-3.005}}},
    {"data":{"values":[{}]},"mark":{"type":"text","text":"-4","fontSize":18,"fontWeight":"bold","align":"left","baseline":"alphabetic"},"encoding":{"x":{"datum":473.39},"y":{"datum":-2.626}}}
   ]},
  {"layer":[
    {"encoding":{
      "x":{"field":"w","type":"quantitative","scale":{"domain":[454.9,486.8],"range":[362,695],"nice":false,"zero":false},
       "axis":{"orient":"bottom","values":[455,460,465,470,475,480,485],"tickSize":{"condition":{"test":"datum.value % 10 == 0","value":24},"value":12},"labelPadding":20,"labelFontSize":29,"labelExpr":"datum.value % 10 == 0 ? '' + datum.value : ''","title":"Wavelength (nm)","titleFontSize":30,"titleX":529,"titleY":88,"titleAlign":"center","titleBaseline":"alphabetic"}},
      "y":{"field":"od","type":"quantitative","scale":{"domain":[-3.44,6.65],"range":[470,256],"nice":false,"zero":false},
       "axis":{"orient":"right","values":[-2,0,2,4,6],"tickSize":25,"labelPadding":13,"labelFontSize":27,
        "labelExpr":"datum.value == 6 ? '6x10⁻³' : datum.value < 0 ? '-' + abs(datum.value) : '' + datum.value",
        "title":["Optical Density","(a.u.)"],"titleFontSize":29,"titleLineHeight":36,"titleAngle":90,"titleAlign":"center","titleBaseline":"middle","titleX":155,"titleY":365}}},
     "layer":[
      {"data":{"name":"br"},"mark":{"type":"line","color":"#ff0000","strokeWidth":3,"strokeJoin":"round"}},
      {"data":{"name":"brfit"},"mark":{"type":"line","color":"black","strokeWidth":3.5,"interpolate":"monotone"}}
     ]},
    {"data":{"values":[{}]},"mark":{"type":"text","text":"O","fontSize":28,"fontWeight":"bold","align":"left","baseline":"alphabetic"},"encoding":{"x":{"datum":456.38},"y":{"datum":-2.69}}},
    {"data":{"values":[{}]},"mark":{"type":"text","text":"4","fontSize":18,"fontWeight":"bold","align":"left","baseline":"alphabetic"},"encoding":{"x":{"datum":458.54},"y":{"datum":-3.02}}},
    {"data":{"values":[{}]},"mark":{"type":"text","text":"SCD = 8.74x10","fontSize":28,"fontWeight":"bold","align":"left","baseline":"alphabetic"},"encoding":{"x":{"datum":460.55},"y":{"datum":-2.69}}},
    {"data":{"values":[{}]},"mark":{"type":"text","text":"42","fontSize":18,"fontWeight":"bold","align":"left","baseline":"alphabetic"},"encoding":{"x":{"datum":479.4},"y":{"datum":-1.84}}}
   ]}
 ]},
{"width":695,"height":389,
 "resolve":{"scale":{"y":"independent"}},
 "layer":[
  {"data":{"name":"i2"},
   "encoding":{
    "x":{"field":"time","type":"temporal"},
    "y":{"field":"i2","type":"quantitative","scale":{"domain":[-18,175.1],"nice":false,"zero":false},
     "axis":{"orient":"right","domain":false,"ticks":false,"labels":false,"title":"I₂ (ppbv),","titleColor":"#ff0000","titleFontSize":36,"titleAngle":90,"titleAlign":"center","titleBaseline":"middle","titleX":141,"titleY":70}}},
   "layer":[
    {"mark":{"type":"errorbar","color":"#ff0000","thickness":1.5,"ticks":{"size":22,"thickness":1.5,"color":"#ff0000"}},"encoding":{"yError":{"field":"e"}}},
    {"mark":{"type":"line","color":"#ff0000","strokeWidth":1.5}},
    {"mark":{"type":"point","shape":"triangle-up","filled":false,"stroke":"#ff0000","strokeWidth":1.3,"size":420,"opacity":1}}
   ]},
  {"layer":[
    {"data":{"values":[{}]},"mark":{"type":"rule","color":"black","strokeWidth":1.5},"encoding":{"y":{"datum":0}}},
    {"data":{"name":"io"},
     "encoding":{"x":{"field":"time","type":"temporal"},
      "y":{"field":"io","type":"quantitative","scale":{"domain":[-4.46,40],"nice":false,"zero":false},
       "axis":{"orient":"left","values":[0,10,20,30,40],"tickSize":24,"tickWidth":1.5,"domainWidth":1.5,"labelPadding":8,"labelFontSize":30,"title":"IO (pptv)","titleColor":"#7000e0","titleFontSize":35,"titleAngle":-90,"titleAlign":"center","titleBaseline":"middle","titleX":-170,"titleY":200}}},
     "layer":[
      {"mark":{"type":"errorbar","color":"#7000e0","thickness":1.5,"ticks":{"size":22,"thickness":1.5,"color":"#7000e0"}},"encoding":{"yError":{"field":"e"}}},
      {"mark":{"type":"line","color":"#7000e0","strokeWidth":1.5}},
      {"mark":{"type":"point","shape":"triangle-down","filled":true,"color":"#7000e0","size":560,"opacity":1}}
     ]},
    {"data":{"values":[{}]},"mark":{"type":"text","text":"B","fontSize":32,"fontWeight":"bold","align":"left","baseline":"alphabetic"},"encoding":{"x":{"datum":{"year":2010,"month":3,"date":18,"hours":12,"minutes":19,"seconds":57},"type":"temporal"},"y":{"datum":38.06}}},
    {"data":{"values":[{}]},"mark":{"type":"rect","fill":"white","stroke":"black","strokeWidth":2},"encoding":{"x":{"datum":{"year":2010,"month":3,"date":18,"hours":12,"minutes":39,"seconds":43},"type":"temporal"},"x2":{"datum":{"year":2010,"month":3,"date":18,"hours":13,"minutes":1,"seconds":29}},"y":{"datum":41.97},"y2":{"datum":36.4}}},
    {"data":{"values":[{}]},"mark":{"type":"rect","fill":"white","stroke":"black","strokeWidth":2},"encoding":{"x":{"datum":{"year":2010,"month":3,"date":18,"hours":13,"minutes":9,"seconds":14},"type":"temporal"},"x2":{"datum":{"year":2010,"month":3,"date":18,"hours":13,"minutes":31,"seconds":1}},"y":{"datum":41.97},"y2":{"datum":36.4}}},
    {"data":{"values":[{}]},"mark":{"type":"text","text":"Lamp Pulse","fontSize":33,"fontWeight":"normal","align":"center","baseline":"alphabetic"},"encoding":{"x":{"datum":{"year":2010,"month":3,"date":18,"hours":12,"minutes":50,"seconds":36},"type":"temporal"},"y":{"datum":37.9}}},
    {"data":{"values":[{}]},"mark":{"type":"text","text":"Lamp Pulse","fontSize":33,"fontWeight":"normal","align":"center","baseline":"alphabetic"},"encoding":{"x":{"datum":{"year":2010,"month":3,"date":18,"hours":13,"minutes":20,"seconds":7},"type":"temporal"},"y":{"datum":37.9}}},
    {"data":{"values":[{}]},"mark":{"type":"rule","color":"black","strokeWidth":3.5},"encoding":{"x":{"datum":{"year":2010,"month":3,"date":18,"hours":12,"minutes":50,"seconds":43},"type":"temporal"},"x2":{"datum":{"year":2010,"month":3,"date":18,"hours":12,"minutes":58,"seconds":19}},"y":{"datum":36.0},"y2":{"datum":22.07}}},
    {"data":{"values":[{}]},"mark":{"type":"point","shape":"M0,0L-0.3,-1L0.3,-1Z","size":1936,"angle":-29.1,"filled":true,"color":"black","opacity":1},"encoding":{"x":{"datum":{"year":2010,"month":3,"date":18,"hours":12,"minutes":59,"seconds":8},"type":"temporal"},"y":{"datum":20.57}}},
    {"data":{"values":[{}]},"mark":{"type":"rule","color":"black","strokeWidth":3.5},"encoding":{"x":{"datum":{"year":2010,"month":3,"date":18,"hours":13,"minutes":20,"seconds":1},"type":"temporal"},"x2":{"datum":{"year":2010,"month":3,"date":18,"hours":13,"minutes":14,"seconds":37}},"y":{"datum":36.23},"y2":{"datum":16.5}}},
    {"data":{"values":[{}]},"mark":{"type":"point","shape":"M0,0L-0.3,-1L0.3,-1Z","size":1936,"angle":15.5,"filled":true,"color":"black","opacity":1},"encoding":{"x":{"datum":{"year":2010,"month":3,"date":18,"hours":13,"minutes":14,"seconds":10},"type":"temporal"},"y":{"datum":14.86}}}
  ]},
  {"data":{"name":"o3"},
   "encoding":{
    "x":{"field":"time","type":"temporal",
     "scale":{"domain":[{"year":2010,"month":3,"date":18,"hours":12,"minutes":17,"seconds":36},{"year":2010,"month":3,"date":18,"hours":13,"minutes":35,"seconds":37}]},
     "axis":{"values":[{"year":2010,"month":3,"date":18,"hours":12,"minutes":30},{"year":2010,"month":3,"date":18,"hours":12,"minutes":45},{"year":2010,"month":3,"date":18,"hours":13,"minutes":0},{"year":2010,"month":3,"date":18,"hours":13,"minutes":15},{"year":2010,"month":3,"date":18,"hours":13,"minutes":30}],
      "offset":15,"tickSize":{"condition":{"test":"minutes(datum.value) % 30 == 0","value":26},"value":16},"tickWidth":1.5,"domainWidth":1.5,"labelPadding":13,"labelFontSize":31,"labelLineHeight":35,
      "labelExpr":"hours(datum.value) == 12 && minutes(datum.value) == 30 ? ['12:30 PM', '3/18/2010'] : minutes(datum.value) == 0 ? '1:00 PM' : (hours(datum.value) == 13 && minutes(datum.value) == 30) ? '1:30 PM' : ''",
      "title":"Time of Day","titleFontSize":36,"titleX":348,"titleY":108,"titleAlign":"center","titleBaseline":"alphabetic"}},
    "y":{"field":"o3","type":"quantitative","scale":{"domain":[-18,175.1],"nice":false,"zero":false},
     "axis":{"orient":"right","values":[0,50,100,150],"tickSize":25,"tickWidth":1.5,"domainWidth":1.5,"labelPadding":16,"labelFontSize":29,"title":"O₃ (ppbv x10)","titleFontSize":36,"titleAngle":90,"titleAlign":"center","titleBaseline":"middle","titleX":141,"titleY":290}}},
   "layer":[
    {"mark":{"type":"line","color":"black","strokeWidth":1.5}},
    {"mark":{"type":"point","shape":"triangle-up","filled":true,"color":"black","size":700,"opacity":1}}
   ]}
 ]}
]
}
